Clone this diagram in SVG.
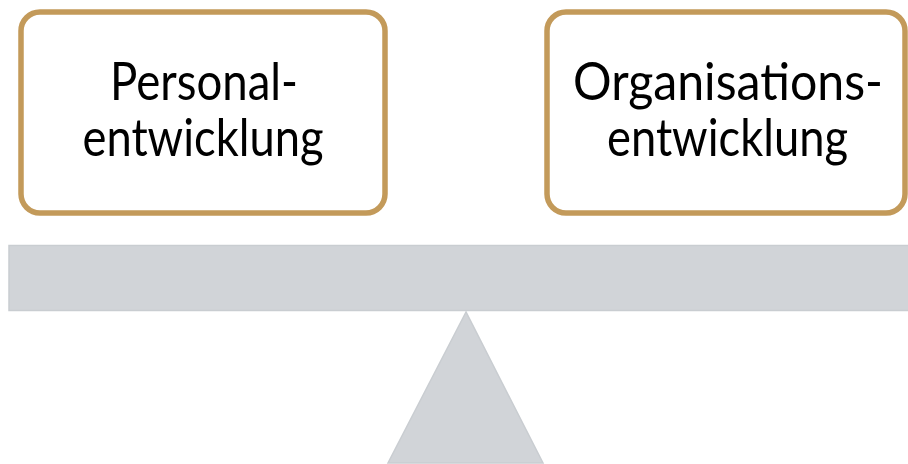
<svg xmlns="http://www.w3.org/2000/svg" width="908" height="464" viewBox="0 0 908 464">
  <style>
    .box { fill: #ffffff; stroke: #C39A5A; stroke-width: 5.5; }
    .lbl { font-family: "Lato", "Liberation Sans", sans-serif; font-size: 52px; fill: #000000; text-anchor: middle; }
    .gray { fill: #D1D4D8; stroke: #C9CDD1; stroke-width: 1.5; }
  </style>
  <rect width="908" height="464" fill="#ffffff"/>
  <g id="node-personal">
    <rect class="box" x="21" y="12" width="364" height="201" rx="19" ry="19"/>
    <text class="lbl" x="204" y="100" textLength="188" lengthAdjust="spacingAndGlyphs">Personal-</text>
    <text class="lbl" x="203" y="156" textLength="241" lengthAdjust="spacingAndGlyphs">entwicklung</text>
  </g>
  <g id="node-organisation">
    <rect class="box" x="547" y="12" width="358" height="201" rx="19" ry="19"/>
    <text class="lbl" x="728" y="100" textLength="310" lengthAdjust="spacingAndGlyphs">Organisations-</text>
    <text class="lbl" x="727.5" y="156" textLength="241" lengthAdjust="spacingAndGlyphs">entwicklung</text>
  </g>
  <g id="scale">
    <rect class="gray" x="9" y="245.5" width="905" height="65"/>
    <polygon class="gray" points="466,312 388,463 543,463"/>
  </g>
  <g id="connectors"></g>
</svg>
